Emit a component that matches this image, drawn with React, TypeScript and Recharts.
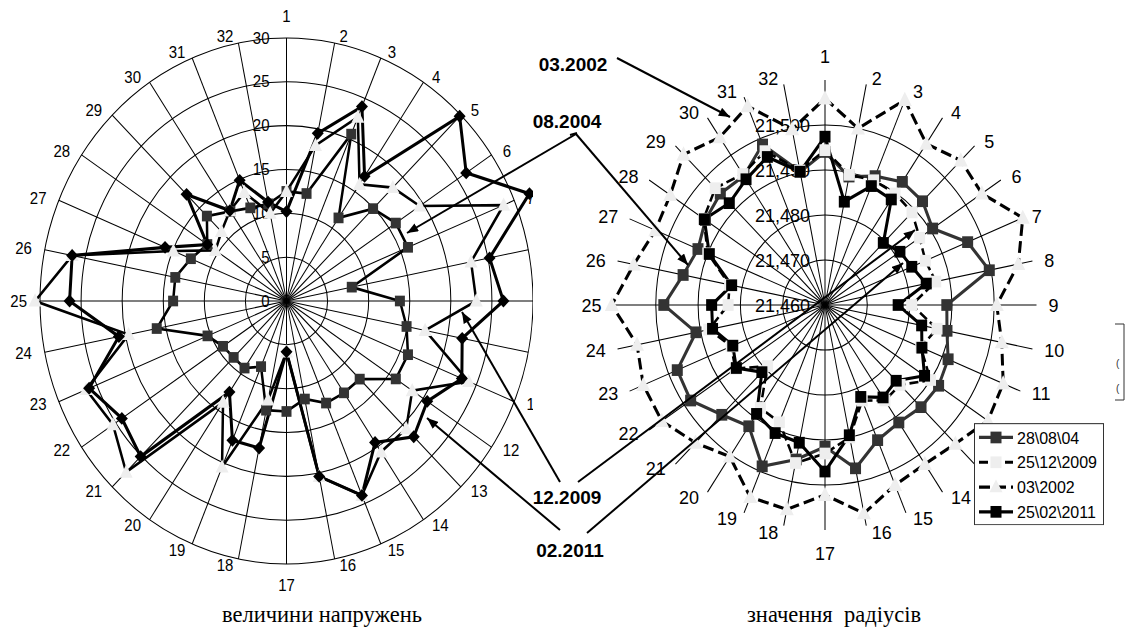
import React from 'react';
import {
  RadarChart,
  Radar,
  PolarGrid,
  PolarAngleAxis,
  PolarRadiusAxis,
  Legend,
} from 'recharts';

// spoke labels (same for both charts)
const axisLabels = [
  '1', '2', '3', '4', '5', '6', '7', '8', '9', '10', '11', '12', '13', '14', '15', '16',
  '17', '18', '19', '20', '21', '22', '23', '24', '25', '26', '27', '28', '29', '30', '31', '32',
];

// left chart: величини напружень
const stress2004 = [12.5, 12.5, 20.6, 11.4, 14.9, 16.0, 16.0, 8.1, 13.8, 14.9, 16.0, 16.0, 12.6, 12.6, 12.6, 11.4,
  12.6, 12.7, 8.1, 9.2, 9.1, 9.3, 10.4, 16.1, 13.8, 13.8, 12.6, 11.6, 13.7, 12.3, 11.5, 11.3];
const stress2009 = [12.5, 18.1, 22.7, 16.0, 18.3, 19.5, 28.6, 22.9, 23.1, 17.2, 24.0, 18.4, 20.6, 20.7, 24.0, 20.4,
  5.8, 11.5, 20.5, 13.9, 27.6, 25.4, 26.4, 19.6, 30.6, 26.6, 14.9, 10.4, 11.2, 12.4, 13.4, 10.2];
const stress2011 = [10.2, 19.5, 24.0, 17.1, 29.8, 26.3, 32.0, 25.2, 26.4, 21.8, 23.1, 20.6, 21.9, 19.4, 24.0, 20.4,
  5.8, 17.1, 17.2, 12.5, 25.1, 24.1, 26.0, 20.8, 26.4, 26.6, 16.0, 11.6, 17.2, 12.4, 14.9, 11.5];
const stressTicks = [0, 5, 10, 15, 20, 25, 30];

// right chart: значення радіусів
const radius2004 = [21.494, 21.4891, 21.491, 21.4929, 21.4926, 21.4906, 21.4965, 21.4996, 21.4888, 21.4894, 21.4915,
  21.4923, 21.4921, 21.4914, 21.4925, 21.497, 21.4915, 21.495, 21.4988, 21.4924, 21.4945, 21.4982, 21.4978, 21.4911,
  21.4981, 21.4942, 21.4925, 21.494, 21.495, 21.4945, 21.4986, 21.4902];
const radius2009 = [21.4944, 21.4895, 21.49, 21.4898, 21.4891, 21.4869, 21.4857, 21.4867, 21.4805, 21.487, 21.4845,
  21.49, 21.4851, 21.4855, 21.483, 21.49, 21.493, 21.4958, 21.4882, 21.4875, 21.4792, 21.4855, 21.484, 21.488,
  21.4829, 21.483, 21.49, 21.4945, 21.4967, 21.495, 21.497, 21.4905];
const radius2002 = [21.5059, 21.5, 21.5093, 21.5031, 21.5054, 21.5046, 21.5106, 21.5066, 21.5006, 21.5026, 21.5056,
  21.5063, 21.5036, 21.5025, 21.5033, 21.5072, 21.5022, 21.5063, 21.5062, 21.5005, 21.5033, 21.5064, 21.5065,
  21.5053, 21.5104, 21.5061, 21.5034, 21.504, 21.5073, 21.5048, 21.5078, 21.4998];
const radius2011 = [21.4974, 21.4834, 21.4886, 21.4882, 21.4795, 21.4813, 21.4822, 21.4844, 21.4773, 21.4833, 21.4848,
  21.4883, 21.4838, 21.4847, 21.4821, 21.4895, 21.497, 21.4912, 21.4908, 21.4891, 21.4811, 21.4852, 21.4836,
  21.4871, 21.4868, 21.4825, 21.4896, 21.4943, 21.492, 21.4936, 21.4956, 21.4902];
const radiusTicks = [21.46, 21.47, 21.48, 21.49, 21.5];
const radiusDomain = [21.46, 21.51];

const legendNames = ['28\\08\\04', '25\\12\\2009', '03\\2002', '25\\02\\2011'];

const stressData = axisLabels.map((axis, i) => ({
  axis,
  s2004: stress2004[i],
  s2009: stress2009[i],
  s2011: stress2011[i],
}));

// the radius axis starts at 21,460: values are stored relative to that origin
const R0 = radiusDomain[0];
const radiusData = axisLabels.map((axis, i) => ({
  axis,
  r2004: radius2004[i] - R0,
  r2009: radius2009[i] - R0,
  r2002: radius2002[i] - R0,
  r2011: radius2011[i] - R0,
}));

// layout (the source picture is slightly stretched vertically)
const LEFT = { cx: 286.5, cy: 301, r: 246.5, sy: 1.067, w: 533, h: 610 };
const RIGHT = { x: 533, cx: 292, cy: 305, r: 211.5, sy: 1.064, w: 596, h: 610 };

const FONT = 'Arial, "Liberation Sans", sans-serif';
const SERIF = '"Liberation Serif", "Times New Roman", serif';

const square = (fill: string, size: number) => (p: any) =>
  p.cx == null ? <g key={p.index} /> : (
    <rect key={p.index} x={p.cx - size / 2} y={p.cy - size / 2} width={size} height={size} fill={fill} />
  );

const triangle = (fill: string, w: number) => (p: any) =>
  p.cx == null ? <g key={p.index} /> : (
    <path
      key={p.index}
      d={`M${p.cx},${p.cy - w * 0.55} L${p.cx + w / 2},${p.cy + w * 0.4} L${p.cx - w / 2},${p.cy + w * 0.4} Z`}
      fill={fill}
    />
  );

const diamond = (fill: string, s: number) => (p: any) =>
  p.cx == null ? <g key={p.index} /> : (
    <path
      key={p.index}
      d={`M${p.cx},${p.cy - s} L${p.cx + s},${p.cy} L${p.cx},${p.cy + s} L${p.cx - s},${p.cy} Z`}
      fill={fill}
    />
  );

const angleTick = (cx: number, cy: number, r: number, fs: number, g0: number, g1: number, yk: number, vert: number) =>
  (props: any) => {
    const label = String(props.payload.value);
    const idx = axisLabels.indexOf(label);
    const th = (idx * 2 * Math.PI) / axisLabels.length;
    const s = Math.sin(th);
    const c = Math.cos(th);
    const ex = cx + r * s;
    const ey = cy - r * c;
    let x = ex;
    let y = ey - c * vert;
    let anchor = 'middle';
    if (Math.abs(s) > 0.01) {
      x = ex + Math.sign(s) * (g0 + g1 * Math.abs(s));
      y = ey - c * yk;
      anchor = s > 0 ? 'start' : 'end';
    }
    return (
      <text x={x} y={y} textAnchor={anchor} dominantBaseline="central" fontSize={fs} fill="#000" fontFamily={FONT}>
        {label}
      </text>
    );
  };

const radiusTick = (fs: number, dx: number, fmt: (v: number) => string) => (props: any) => (
  <text
    x={props.x - dx}
    y={props.y}
    textAnchor="end"
    dominantBaseline="central"
    fontSize={fs}
    fill="#000"
    fontFamily={FONT}
  >
    {fmt(props.payload.value)}
  </text>
);

const legendRows = [
  { name: legendNames[0], stroke: '#333', dash: undefined, kind: 'square', fill: '#333' },
  { name: legendNames[1], stroke: '#000', dash: '9 4', kind: 'square', fill: '#eee' },
  { name: legendNames[2], stroke: '#000', dash: '11 5', kind: 'triangle', fill: '#eee' },
  { name: legendNames[3], stroke: '#000', dash: undefined, kind: 'square', fill: '#000' },
];

const LegendBox = () => (
  <svg width={131} height={96} style={{ display: 'block' }}>
    <rect x={0.5} y={0.5} width={129} height={95} fill="#fff" stroke="#333" />
    {legendRows.map((row, i) => {
      const y = 13.5 + i * 23.3;
      return (
        <g key={row.name}>
          <line x1={5} x2={39} y1={y} y2={y} stroke={row.stroke} strokeWidth={3} strokeDasharray={row.dash} />
          {row.kind === 'square' ? (
            <rect x={16.5} y={y - 5.5} width={11} height={11} fill={row.fill} />
          ) : (
            <path d={`M22,${y - 7} L28.5,${y + 5} L15.5,${y + 5} Z`} fill={row.fill} />
          )}
          <text x={43} y={y} dominantBaseline="central" fontSize={16} fontFamily={FONT} fill="#000">
            {row.name}
          </text>
        </g>
      );
    })}
  </svg>
);

const arrowLines = [
  { x1: 617, y1: 58, x2: 730, y2: 117 },
  { x1: 576, y1: 134, x2: 407, y2: 233 },
  { x1: 576, y1: 134, x2: 688, y2: 265 },
  { x1: 560, y1: 482, x2: 462, y2: 312 },
  { x1: 578, y1: 482, x2: 915, y2: 230 },
  { x1: 560, y1: 530, x2: 427, y2: 418 },
  { x1: 587, y1: 533, x2: 903, y2: 263 },
];

const dateLabels = [
  { text: '03.2002', x: 573, y: 71 },
  { text: '08.2004', x: 567, y: 128 },
  { text: '12.2009', x: 567, y: 504 },
  { text: '02.2011', x: 570, y: 557 },
];

export default function App() {
  const leftRings = stressTicks.slice(1).map((v) => (v / stressTicks[stressTicks.length - 1]) * LEFT.r);
  const span = radiusDomain[1] - radiusDomain[0];
  const rightRings = radiusTicks.slice(1).map((v) => ((v - R0) / span) * RIGHT.r);

  return (
    <div style={{ position: 'absolute', left: 0, top: 0, width: 1129, height: 632, background: '#fff', overflow: 'hidden' }}>
      {/* left radar */}
      <div
        style={{
          position: 'absolute',
          left: 0,
          top: 0,
          transform: `scaleY(${LEFT.sy})`,
          transformOrigin: `${LEFT.cx}px ${LEFT.cy}px`,
        }}
      >
        <RadarChart
          width={LEFT.w}
          height={LEFT.h}
          data={stressData}
          cx={LEFT.cx}
          cy={LEFT.cy}
          outerRadius={LEFT.r}
          margin={{ top: 0, right: 0, bottom: 0, left: 0 }}
        >
          <PolarGrid gridType="circle" stroke="#000" strokeWidth={1} polarRadius={leftRings} />
          <PolarAngleAxis
            dataKey="axis"
            axisLine={false}
            tickLine={false}
            tick={angleTick(LEFT.cx, LEFT.cy, LEFT.r, 15, 3, 10, 6, 20)}
          />
          <PolarRadiusAxis
            angle={90}
            type="number"
            domain={[0, 30]}
            ticks={stressTicks}
            allowDataOverflow
            axisLine={false}
            tickLine={false}
            tick={radiusTick(15, 17, (v) => String(v))}
          />
          <Radar
            dataKey="s2004"
            stroke="#000"
            strokeWidth={2.5}
            fill="none"
            fillOpacity={0}
            dot={square('#333', 10)}
            activeDot={false}
            isAnimationActive={false}
          />
          <Radar
            dataKey="s2009"
            stroke="#000"
            strokeWidth={2.5}
            fill="none"
            fillOpacity={0}
            dot={triangle('#eee', 13)}
            activeDot={false}
            isAnimationActive={false}
          />
          <Radar
            dataKey="s2011"
            stroke="#000"
            strokeWidth={3}
            fill="none"
            fillOpacity={0}
            dot={diamond('#000', 6)}
            activeDot={false}
            isAnimationActive={false}
          />
        </RadarChart>
      </div>

      {/* right radar, drawn over the left one */}
      <div
        style={{
          position: 'absolute',
          left: RIGHT.x,
          top: 0,
          width: RIGHT.w,
          height: RIGHT.h,
          background: '#fff',
          transform: `scaleY(${RIGHT.sy})`,
          transformOrigin: `${RIGHT.cx}px ${RIGHT.cy}px`,
        }}
      >
        <RadarChart
          width={RIGHT.w}
          height={RIGHT.h}
          data={radiusData}
          cx={RIGHT.cx}
          cy={RIGHT.cy}
          outerRadius={RIGHT.r}
          margin={{ top: 0, right: 0, bottom: 0, left: 0 }}
        >
          <PolarGrid gridType="circle" stroke="#000" strokeWidth={1} polarRadius={rightRings} />
          <PolarAngleAxis
            dataKey="axis"
            axisLine={false}
            tickLine={false}
            tick={angleTick(RIGHT.cx, RIGHT.cy, RIGHT.r, 18, 4, 8, 6, 22)}
          />
          <Radar
            dataKey="r2004"
            name={legendNames[0]}
            stroke="#333"
            strokeWidth={3}
            fill="none"
            fillOpacity={0}
            dot={square('#333', 11)}
            activeDot={false}
            isAnimationActive={false}
          />
          <Radar
            dataKey="r2009"
            name={legendNames[1]}
            stroke="#000"
            strokeWidth={2.5}
            strokeDasharray="9 4"
            fill="none"
            fillOpacity={0}
            dot={square('#eee', 11)}
            activeDot={false}
            isAnimationActive={false}
          />
          <Radar
            dataKey="r2002"
            name={legendNames[2]}
            stroke="#000"
            strokeWidth={3}
            strokeDasharray="11 5"
            fill="none"
            fillOpacity={0}
            dot={triangle('#eee', 14)}
            activeDot={false}
            isAnimationActive={false}
          />
          <Radar
            dataKey="r2011"
            name={legendNames[3]}
            stroke="#000"
            strokeWidth={3}
            fill="none"
            fillOpacity={0}
            dot={square('#000', 11)}
            activeDot={false}
            isAnimationActive={false}
          />
          <PolarRadiusAxis
            angle={90}
            type="number"
            domain={[0, span]}
            ticks={radiusTicks.map((v) => v - R0)}
            allowDataOverflow
            axisLine={false}
            tickLine={false}
            tick={radiusTick(18, 15, (v) => (v + R0).toFixed(3).replace('.', ','))}
          />
          <Legend
            content={() => <LegendBox />}
            wrapperStyle={{ position: 'absolute', left: 441, top: 416, width: 131, height: 96 }}
          />
        </RadarChart>
      </div>

      {/* annotations */}
      <svg
        width={1129}
        height={632}
        style={{ position: 'absolute', left: 0, top: 0, pointerEvents: 'none' }}
      >
        <defs>
          <marker
            id="arrowHead"
            viewBox="0 0 10 8"
            refX={10}
            refY={4}
            markerWidth={12}
            markerHeight={9}
            markerUnits="userSpaceOnUse"
            orient="auto"
          >
            <path d="M0,0 L10,4 L0,8 Z" fill="#000" />
          </marker>
        </defs>
        {arrowLines.map((a, i) => (
          <line key={i} {...a} stroke="#000" strokeWidth={2} markerEnd="url(#arrowHead)" />
        ))}
        <line x1={570} y1={135} x2={577} y2={133} stroke="#000" strokeWidth={2} />
        {dateLabels.map((d) => (
          <text key={d.text} x={d.x} y={d.y} textAnchor="middle" fontSize={19} fontWeight="bold" fontFamily={FONT}>
            {d.text}
          </text>
        ))}
        <path d="M1115,324 L1124,324 L1124,400 L1115,400" fill="none" stroke="#333" strokeWidth={1} />
        <text x={1116} y={367} fontSize={10} fontFamily={FONT} fill="#333">(</text>
        <text x={1116} y={392} fontSize={10} fontFamily={FONT} fill="#333">(</text>
        <text x={322} y={622} textAnchor="middle" fontSize={22.5} fontFamily={SERIF} fill="#000">
          величини напружень
        </text>
        <text
          x={834}
          y={622}
          textAnchor="middle"
          fontSize={22.5}
          fontFamily={SERIF}
          fill="#000"
          style={{ whiteSpace: 'pre' }}
        >
          значення  радіусів
        </text>
      </svg>
    </div>
  );
}
